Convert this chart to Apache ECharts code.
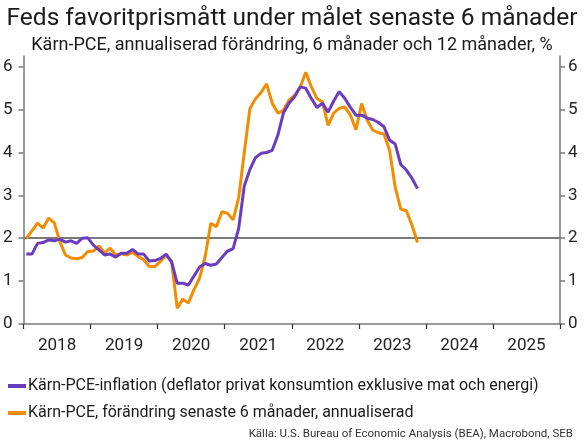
<!DOCTYPE html>
<html>
<head>
  <meta charset="UTF-8">
  <title>Kärn-PCE</title>
  <style>
    html, body { margin: 0; padding: 0; background: #fff; }
    #chart { width: 584px; height: 445px; }
  </style>
  <script src="https://cdn.jsdelivr.net/npm/echarts@6/dist/echarts.min.js"></script>
</head>
<body>
  <div id="chart"></div>
  <script>
    // månadsdata från jan 2018 till nov 2023
    var startYear = 2018;
    var yearLabels = [2018, 2019, 2020, 2021, 2022, 2023, 2024, 2025];
    var yTicks = [0, 1, 2, 3, 4, 5, 6];

    // Kärn-PCE, 12 mån
    var corePce12m = [
      1.63, 1.63, 1.88, 1.90, 1.96, 1.94, 1.98, 1.91, 1.94, 1.88, 2.00, 2.01,
      1.84, 1.73, 1.61, 1.63, 1.56, 1.65, 1.65, 1.74, 1.63, 1.63, 1.47, 1.48,
      1.53, 1.63, 1.45, 0.95, 0.95, 0.91, 1.12, 1.33, 1.41, 1.37, 1.40, 1.55,
      1.70, 1.76, 2.23, 3.22, 3.60, 3.88, 3.98, 4.00, 4.05, 4.40, 4.92, 5.15,
      5.30, 5.53, 5.50, 5.26, 5.05, 5.15, 4.94, 5.20, 5.42, 5.26, 5.05, 4.87,
      4.87, 4.80, 4.77, 4.70, 4.60, 4.29, 4.20, 3.72, 3.59, 3.40, 3.16
    ];
    // Kärn-PCE, 6 mån annualiserad
    var corePce6m = [
      2.00, 2.17, 2.35, 2.24, 2.47, 2.36, 1.92, 1.61, 1.54, 1.52, 1.55, 1.69,
      1.70, 1.82, 1.66, 1.77, 1.61, 1.64, 1.61, 1.67, 1.57, 1.50, 1.34, 1.34,
      1.46, 1.61, 1.45, 0.37, 0.58, 0.49, 0.80, 1.07, 1.57, 2.35, 2.27, 2.62,
      2.58, 2.43, 2.95, 4.00, 5.02, 5.25, 5.40, 5.60, 5.15, 4.92, 4.98, 5.22,
      5.33, 5.52, 5.87, 5.53, 5.26, 5.18, 4.63, 4.92, 5.03, 5.06, 4.87, 4.53,
      5.14, 4.75, 4.52, 4.46, 4.43, 4.05, 3.20, 2.68, 2.64, 2.31, 1.90
    ];
    var target = 2;

    var purple = '#6a3dbf';
    var orange = '#f28c00';
    var gray = '#7a7a7a';
    var font = 'Roboto, sans-serif';

    function toPoints(values) {
      // punkt i mitten av månaden
      return values.map(function (v, i) { return [i + 0.5, v]; });
    }

    var monthTicks = yearLabels.map(function (y) { return (y - startYear) * 12; });
    monthTicks.push(monthTicks[monthTicks.length - 1] + 12);
    var labelPos = yearLabels.map(function (y) { return (y - startYear) * 12 + 6; });

    var yAxisBase = function (pos, margin) {
      return {
        type: 'value',
        position: pos,
        min: 0,
        max: 6.25,
        splitLine: { show: false },
        axisLine: { show: true, lineStyle: { color: gray, width: 1.5 } },
        axisTick: { show: true, length: 5, customValues: yTicks, lineStyle: { color: gray, width: 1.5 } },
        axisLabel: { customValues: yTicks, margin: margin, color: '#222', fontSize: 17, fontFamily: font }
      };
    };

    var chart = echarts.init(document.getElementById('chart'));
    chart.setOption({
      animation: false,
      title: [
        {
          text: 'Feds favoritprismått under målet senaste 6 månader',
          left: 'center', top: 1,
          textStyle: { fontSize: 24.5, fontWeight: 'normal', color: '#1a1a1a', fontFamily: font }
        },
        {
          text: 'Kärn-PCE, annualiserad förändring, 6 månader och 12 månader, %',
          left: 'center', top: 31,
          textStyle: { fontSize: 18, fontWeight: 'normal', color: '#1a1a1a', fontFamily: font }
        },
        {
          text: 'Källa: U.S. Bureau of Economic Analysis (BEA), Macrobond, SEB',
          right: 6, bottom: 0,
          textStyle: { fontSize: 11.5, fontWeight: 'normal', color: '#333', fontFamily: font }
        }
      ],
      legend: {
        orient: 'vertical',
        left: 3, top: 373,
        itemWidth: 18, itemHeight: 4, itemGap: 11,
        icon: 'rect',
        textStyle: { fontSize: 16, color: '#1a1a1a', fontFamily: font, padding: [0, 0, 0, -3] },
        data: [
          'Kärn-PCE-inflation (deflator privat konsumtion exklusive mat och energi)',
          'Kärn-PCE, förändring senaste 6 månader, annualiserad'
        ]
      },
      grid: { left: 21, right: 24, top: 56, bottom: 121, containLabel: false },
      xAxis: {
        type: 'value',
        min: 0,
        max: 96,
        splitLine: { show: false },
        axisLine: { show: true, onZero: false, lineStyle: { color: gray, width: 1.5 } },
        axisTick: { show: true, length: 5, customValues: monthTicks, lineStyle: { color: '#333', width: 1.2 } },
        axisLabel: {
          customValues: labelPos,
          margin: 13,
          color: '#222', fontSize: 17, fontFamily: font,
          formatter: function (v) { return String(startYear + Math.floor(v / 12)); }
        }
      },
      yAxis: [yAxisBase('left', 11), yAxisBase('right', 8)],
      series: [
        {
          name: 'Kärn-PCE-inflation (deflator privat konsumtion exklusive mat och energi)',
          type: 'line',
          data: toPoints(corePce12m),
          showSymbol: false,
          symbol: 'none',
          z: 3,
          lineStyle: { color: purple, width: 3 },
          itemStyle: { color: purple },
          markLine: {
            silent: true,
            symbol: 'none',
            label: { show: false },
            lineStyle: { color: gray, width: 2, type: 'solid' },
            data: [{ yAxis: target }],
            z: 1
          }
        },
        {
          name: 'Kärn-PCE, förändring senaste 6 månader, annualiserad',
          type: 'line',
          data: toPoints(corePce6m),
          showSymbol: false,
          symbol: 'none',
          z: 2,
          lineStyle: { color: orange, width: 3 },
          itemStyle: { color: orange }
        }
      ]
    });
  </script>
</body>
</html>
